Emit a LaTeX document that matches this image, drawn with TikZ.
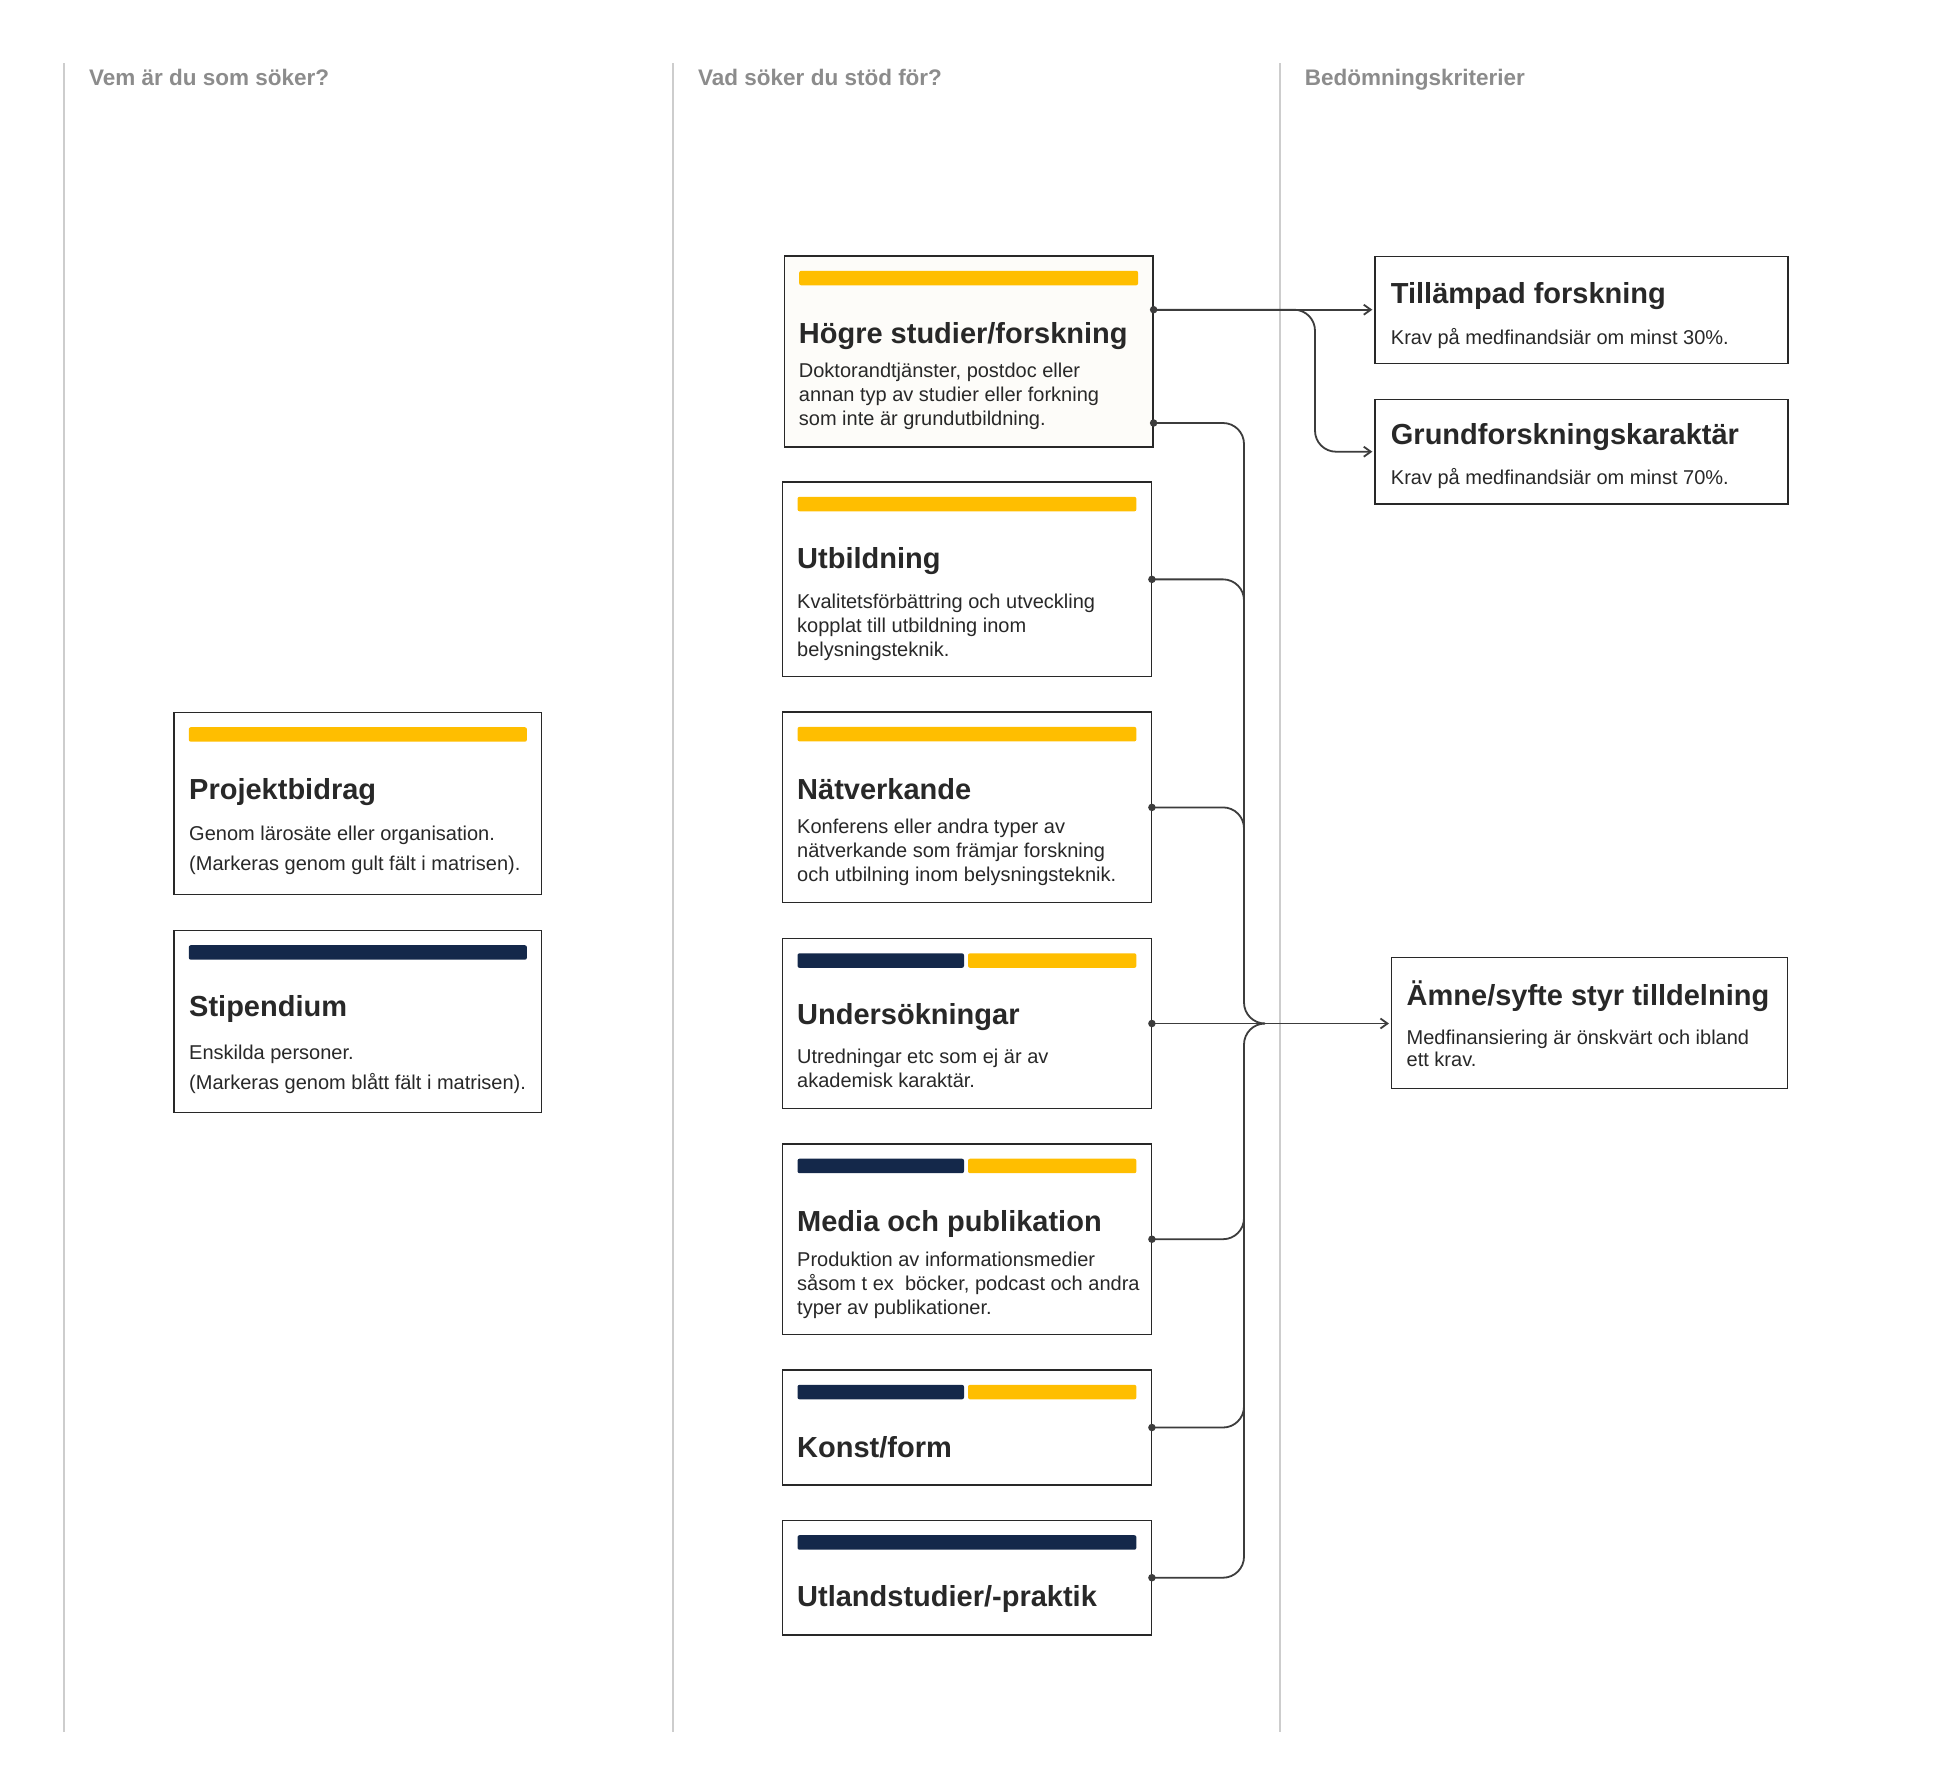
\documentclass[tikz,border=0pt]{standalone}
\usepackage{fontspec}
\setmainfont{Liberation Sans}
\usetikzlibrary{calc,arrows.meta}
\definecolor{barY}{RGB}{255,190,0}
\definecolor{barN}{RGB}{20,40,74}
\definecolor{ink}{RGB}{40,40,40}
\definecolor{hdr}{RGB}{140,140,140}
\definecolor{rulegray}{RGB}{205,205,205}
\definecolor{conn}{RGB}{60,60,60}
\definecolor{cream}{RGB}{253,252,249}
\tikzset{
  box/.style={draw=ink, line width=1.4pt, inner sep=0pt, anchor=north west, fill=white},
  ttl/.style={anchor=base west, inner sep=0pt, text=ink, font=\fontsize{29}{34}\selectfont\bfseries},
  bdy/.style={anchor=base west, inner sep=0pt, text=ink, align=left, font=\fontsize{20}{24}\selectfont},
  hdrtxt/.style={anchor=base west, inner sep=0pt, text=hdr, font=\fontsize{22.5}{26}\selectfont\bfseries},
  colrule/.style={draw=rulegray, line width=2pt},
  wire/.style={draw=conn, line width=1.8pt},
  arr/.style={wire, -{Straight Barb[length=7pt,width=10pt]}, shorten >=2pt},
  dot/.style={circle, fill=conn, inner sep=0pt, minimum size=7.5pt},
}
\newcommand\fullbar[2]{\fill[#2, rounded corners=2pt] ($(#1.north west)+(15.5,15.5)$) rectangle ($(#1.north east)+(-15.5,30)$);}
\newcommand\splitbar[1]{\fill[barN, rounded corners=2pt] ($(#1.north west)+(15.5,15.5)$) rectangle ($(#1.north west)+(182,30)$);
  \fill[barY, rounded corners=2pt] ($(#1.north west)+(186,15.5)$) rectangle ($(#1.north east)+(-15.5,30)$);}
\begin{document}
\begin{tikzpicture}[x=1pt, y=-1pt]
\useasboundingbox (0,0) rectangle (1933,1789);
\fill[white] (0,0) rectangle (1933,1789);
% column rules
\draw[colrule] (64,63) -- (64,1732);
\draw[colrule] (673,63) -- (673,1732);
\draw[colrule] (1280,63) -- (1280,1732);
% headers
\node[hdrtxt] (hd1) at (88.8,85) {Vem är du som söker?};
\node[hdrtxt] (hd2) at (698,85) {Vad söker du stöd för?};
\node[hdrtxt] (hd3) at (1304.6,85) {Bedömningskriterier};
% left column (body anchor = baseline of last line)
\node[box, minimum width=367.7pt, minimum height=182.3pt] (pb) at (173.3,711.7) {};
\fullbar{pb}{barY}
\node[ttl] (pbt) at ($(pb.north west)+(15.7,87.3)$) {Projektbidrag};
\node[bdy, font=\fontsize{20}{30}\selectfont] (pbb) at ($(pb.north west)+(15.7,159)$) {Genom lärosäte eller organisation.\\(Markeras genom gult fält i matrisen).};
\node[box, minimum width=367.7pt, minimum height=182.3pt] (sp) at (173.3,929.7) {};
\fullbar{sp}{barN}
\node[ttl] (spt) at ($(sp.north west)+(15.7,86.5)$) {Stipendium};
\node[bdy, font=\fontsize{20}{30}\selectfont] (spb) at ($(sp.north west)+(15.7,159.3)$) {Enskilda personer.\\(Markeras genom blått fält i matrisen).};
% middle column
\node[box, fill=cream, minimum width=368.5pt, minimum height=191pt] (h1) at (783.7,255.3) {};
\fullbar{h1}{barY}
\node[ttl] (h1t) at ($(h1.north west)+(15,88)$) {Högre studier/forskning};
\node[bdy] (h1b) at ($(h1.north west)+(15,170.4)$) {Doktorandtjänster, postdoc eller\\annan typ av studier eller forkning\\som inte är grundutbildning.};

\node[box, minimum width=368.5pt, minimum height=194.7pt] (h2) at (782,481.3) {};
\fullbar{h2}{barY}
\node[ttl] (h2t) at ($(h2.north west)+(15,87.5)$) {Utbildning};
\node[bdy] (h2b) at ($(h2.north west)+(15,175)$) {Kvalitetsförbättring och utveckling\\kopplat till utbildning inom\\belysningsteknik.};

\node[box, minimum width=368.5pt, minimum height=190.6pt] (h3) at (782,711.4) {};
\fullbar{h3}{barY}
\node[ttl] (h3t) at ($(h3.north west)+(15,88)$) {Nätverkande};
\node[bdy] (h3b) at ($(h3.north west)+(15,170.4)$) {Konferens eller andra typer av\\nätverkande som främjar forskning\\och utbilning inom belysningsteknik.};

\node[box, minimum width=368.5pt, minimum height=170pt] (h4) at (782,937.8) {};
\splitbar{h4}
\node[ttl] (h4t) at ($(h4.north west)+(15,87)$) {Undersökningar};
\node[bdy] (h4b) at ($(h4.north west)+(15,149.8)$) {Utredningar etc som ej är av\\akademisk karaktär.};

\node[box, minimum width=368.5pt, minimum height=190.6pt] (h5) at (782,1143.2) {};
\splitbar{h5}
\node[ttl] (h5t) at ($(h5.north west)+(15,88)$) {Media och publikation};
\node[bdy] (h5b) at ($(h5.north west)+(15,170.8)$) {Produktion av informationsmedier\\såsom t ex~ böcker, podcast och andra\\typer av publikationer.};

\node[box, minimum width=368.5pt, minimum height=115pt] (h6) at (782,1369.3) {};
\splitbar{h6}
\node[ttl] (h6t) at ($(h6.north west)+(15,88)$) {Konst/form};

\node[box, minimum width=368.5pt, minimum height=114.6pt] (h7) at (782,1519.7) {};
\fullbar{h7}{barN}
\node[ttl] (h7t) at ($(h7.north west)+(15,87)$) {Utlandstudier/-praktik};
% right column
\node[box, minimum width=413pt, minimum height=107.3pt] (tf) at (1374.3,255.7) {};
\node[ttl] (tft) at ($(tf.north west)+(16.4,47.5)$) {Tillämpad forskning};
\node[bdy] (tfb) at ($(tf.north west)+(16.4,89)$) {Krav på medfinandsiär om minst 30\%.};
\node[box, minimum width=413pt, minimum height=104.6pt] (gf) at (1374.3,398.7) {};
\node[ttl] (gft) at ($(gf.north west)+(16.4,46)$) {Grundforskningskaraktär};
\node[bdy] (gfb) at ($(gf.north west)+(16.4,86)$) {Krav på medfinandsiär om minst 70\%.};
\node[box, minimum width=396pt, minimum height=131pt] (am) at (1391,956.7) {};
\node[ttl] (amt) at ($(am.north west)+(15.5,48.3)$) {Ämne/syfte styr tilldelning};
\node[bdy, font=\fontsize{20}{22.5}\selectfont] (amb) at ($(am.north west)+(15.5,110.1)$) {Medfinansiering är önskvärt och ibland\\ett krav.};
% connector helpers
\coordinate (c1a) at ($(h1.north east)+(0,54.4)$);
\coordinate (c1b) at ($(h1.north east)+(0,167.7)$);
\coordinate (busx) at (1244,0);
\coordinate (brx) at (1315,0);
\coordinate (mrgx) at (1265,0);
\coordinate (m) at (h4.east -| mrgx);
% connectors
\draw[arr] (c1a) -- (c1a -| tf.west);
\draw[arr, rounded corners=21pt] (c1a) -- (c1a -| brx) -- (gf.west -| brx) -- (gf.west);
\draw[wire, rounded corners=21pt] (c1b) -- (c1b -| busx) -- (h4.east -| busx) -- (m);
\draw[wire, rounded corners=21pt] (h7.east) -- (h7.east -| busx) -- (h4.east -| busx) -- (m);
\draw[wire, rounded corners=21pt] (h2.east) -- (h2.east -| busx) -- ++(0,40);
\draw[wire, rounded corners=21pt] (h3.east) -- (h3.east -| busx) -- ++(0,40);
\draw[wire, rounded corners=21pt] (h5.east) -- (h5.east -| busx) -- ++(0,-40);
\draw[wire, rounded corners=21pt] (h6.east) -- (h6.east -| busx) -- ++(0,-40);
\draw[arr] (h4.east) -- (h4.east -| am.west);
% dots
\node[dot] (d1a) at (c1a) {};
\node[dot] (d1b) at (c1b) {};
\node[dot] (d2) at (h2.east) {};
\node[dot] (d3) at (h3.east) {};
\node[dot] (d4) at (h4.east) {};
\node[dot] (d5) at (h5.east) {};
\node[dot] (d6) at (h6.east) {};
\node[dot] (d7) at (h7.east) {};
\end{tikzpicture}
\end{document}
